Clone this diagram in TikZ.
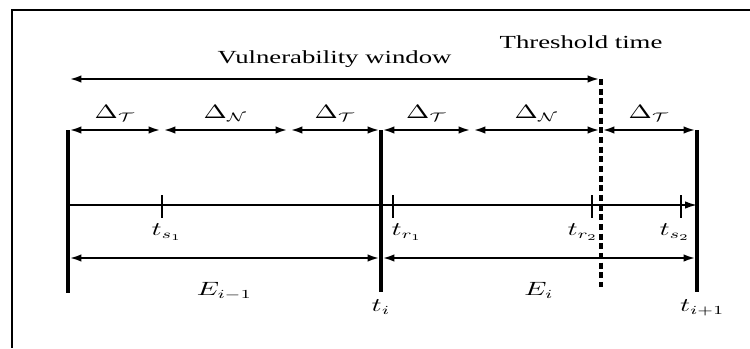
\documentclass[tikz,border=0pt]{standalone}
\usepackage{graphicx}
\usepackage{amsmath,amssymb}
\usepackage{fontspec}
\setmainfont{Liberation Serif}
\usepackage{tikz}
\usetikzlibrary{arrows.meta,positioning,calc}

% labels in the figure are set wide
\newcommand{\wide}[1]{\scalebox{1.45}[1]{#1}}

\tikzset{
  arw/.tip={Latex[length=2.4mm,width=1.5mm]},
  span/.style={line width=1.3pt,arw-arw,shorten >=0.8pt,shorten <=0.8pt},
  bar/.style={line width=2.3pt},
  axisline/.style={line width=0.9pt,-arw},
  tickmark/.style={line width=0.9pt},
  thresh/.style={line width=2pt,dash pattern=on 3.5pt off 2pt},
  lbl/.style={font=\fontsize{10.5}{12}\selectfont,inner sep=1pt}
}

\begin{document}
\begin{tikzpicture}[x=0.02cm,y=-0.02cm]
  \useasboundingbox (0,0) rectangle (750,348);
  % Frame
  \draw[line width=1pt] (750,10) -- (12,10) -- (12,348);

  % Epoch bars
  \coordinate (b0top) at (68,130);  \coordinate (b0bot) at (68,293);
  \coordinate (b1top) at (381,130); \coordinate (b1bot) at (381,292);
  \coordinate (b2top) at (697,130); \coordinate (b2bot) at (697,292);
  \draw[bar] (b0top) -- (b0bot);
  \draw[bar] (b1top) -- (b1bot);
  \draw[bar] (b2top) -- (b2bot);
  \node[lbl,below=3pt of b1bot] (ti) {\wide{$t_i$}};
  \node[lbl,below=3pt of b2bot,xshift=3pt] (tnext) {\wide{$t_{i+1}$}};

  % Vulnerability window and threshold
  \coordinate (w0) at (68,79);
  \coordinate (w1) at (601,79);
  \coordinate (thend) at (601,287);
  \draw[span] (w0) -- node[lbl,above=5pt] (vuln) {\wide{Vulnerability window}} (w1);
  \draw[thresh] (w1) -- (thend);
  \node[lbl] (thr) at (581,42) {\wide{Threshold time}};

  % Delta intervals
  \coordinate (a0) at (68,130);  \coordinate (a1) at (162,130);
  \coordinate (a2) at (289,130); \coordinate (a3) at (381,130);
  \coordinate (a4) at (472,130); \coordinate (a5) at (601,130);
  \coordinate (a6) at (697,130);
  \foreach \i/\j/\s in {0/1/T,1/2/N,2/3/T,3/4/T,4/5/N,5/6/T}
    \draw[span] (a\i) -- node[lbl,above=3pt] (d\i) {\wide{$\Delta_{\mathcal{\s}}$}} (a\j);

  % Time line with marks
  \coordinate (l0) at (68,205);
  \coordinate (l1) at (697,205);
  \draw[axisline] (l0) -- (l1);
  \foreach \n/\x in {s1/162,r1/393,r2/592,s2/681}{
    \coordinate (\n top) at (\x,195);
    \coordinate (\n bot) at (\x,218);
    \draw[tickmark] (\n top) -- (\n bot);
  }
  \node[lbl] (ts1) at (167,232) {\wide{$t_{s_1}$}};
  \node[lbl] (tr1) at (407,232) {\wide{$t_{r_1}$}};
  \node[lbl] (tr2) at (583,232) {\wide{$t_{r_2}$}};
  \node[lbl] (ts2) at (675,232) {\wide{$t_{s_2}$}};

  % Epochs
  \coordinate (e0) at (68,258);
  \coordinate (e1) at (381,258);
  \coordinate (e2) at (697,258);
  \draw[span] (e0) -- node[lbl,below=12pt] (eprev) {\wide{$E_{i-1}$}} (e1);
  \draw[span] (e1) -- node[lbl,below=12pt] (ecur) {\wide{$E_i$}} (e2);
\end{tikzpicture}
\end{document}
